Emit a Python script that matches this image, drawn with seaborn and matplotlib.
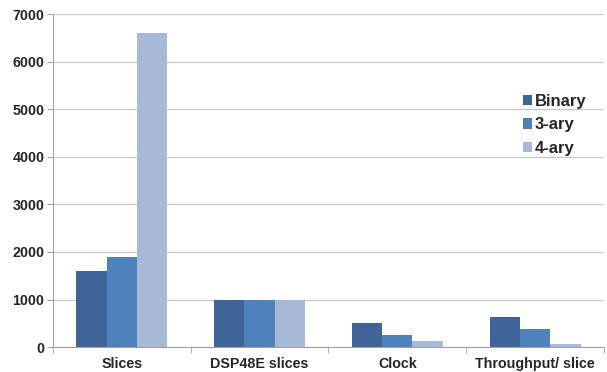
import pandas as pd
import seaborn as sns
import matplotlib.pyplot as plt
from matplotlib.ticker import FixedLocator

categories = ['Slices', 'DSP48E slices', 'Clock', 'Throughput/ slice']
binary = [1600, 1000, 500, 630]
ary3 = [1900, 1000, 250, 370]
ary4 = [6600, 1000, 120, 70]
series = ['Binary', '3-ary', '4-ary']
colors = ['#3F6598', '#4F81BD', '#A8B9D8']

rows = []
for name, vals in zip(series, [binary, ary3, ary4]):
  for c, v in zip(categories, vals):
    rows.append({'category': c, 'series': name, 'value': v})
df = pd.DataFrame(rows)

sns.set_style('white')
plt.rcParams['font.family'] = ['Liberation Sans', 'DejaVu Sans']

fig = plt.figure(figsize=(6.07, 3.72), dpi=100)
ax = fig.add_axes([0.087, 0.067, 0.908, 0.895])
sns.barplot(data=df, x='category', y='value', hue='series', palette=colors,
            width=0.66, saturation=1, linewidth=0, ax=ax, legend=True)

ax.set_ylim(0, 7000)
ax.set_xlim(-0.5, 3.5)
ax.set_yticks(range(0, 7001, 1000))
ax.yaxis.grid(True, color='#C8C8C8', linewidth=0.9)
ax.set_axisbelow(True)
ax.set_xlabel('')
ax.set_ylabel('')
sns.despine(ax=ax, top=True, right=True)
ax.spines['left'].set_color('#A0A0A0')
ax.spines['bottom'].set_color('#A0A0A0')
ax.tick_params(axis='x', which='major', length=0, pad=7, labelsize=10.3)
ax.xaxis.set_minor_locator(FixedLocator([-0.5, 0.5, 1.5, 2.5, 3.5]))
ax.tick_params(axis='x', which='minor', length=4, color='#A0A0A0', direction='out', bottom=True)
ax.tick_params(axis='y', length=4, color='#A0A0A0', labelsize=10.3, pad=2, left=True)
for lab in ax.get_xticklabels() + ax.get_yticklabels():
  lab.set_fontweight('bold')

leg = ax.legend(loc='upper left', bbox_to_anchor=(0.825, 0.805), frameon=False,
                prop={'weight': 'bold', 'size': 12}, handlelength=0.55,
                handleheight=0.6, handletextpad=0.2, labelspacing=0.5)

plt.savefig('out.png', dpi=100)
